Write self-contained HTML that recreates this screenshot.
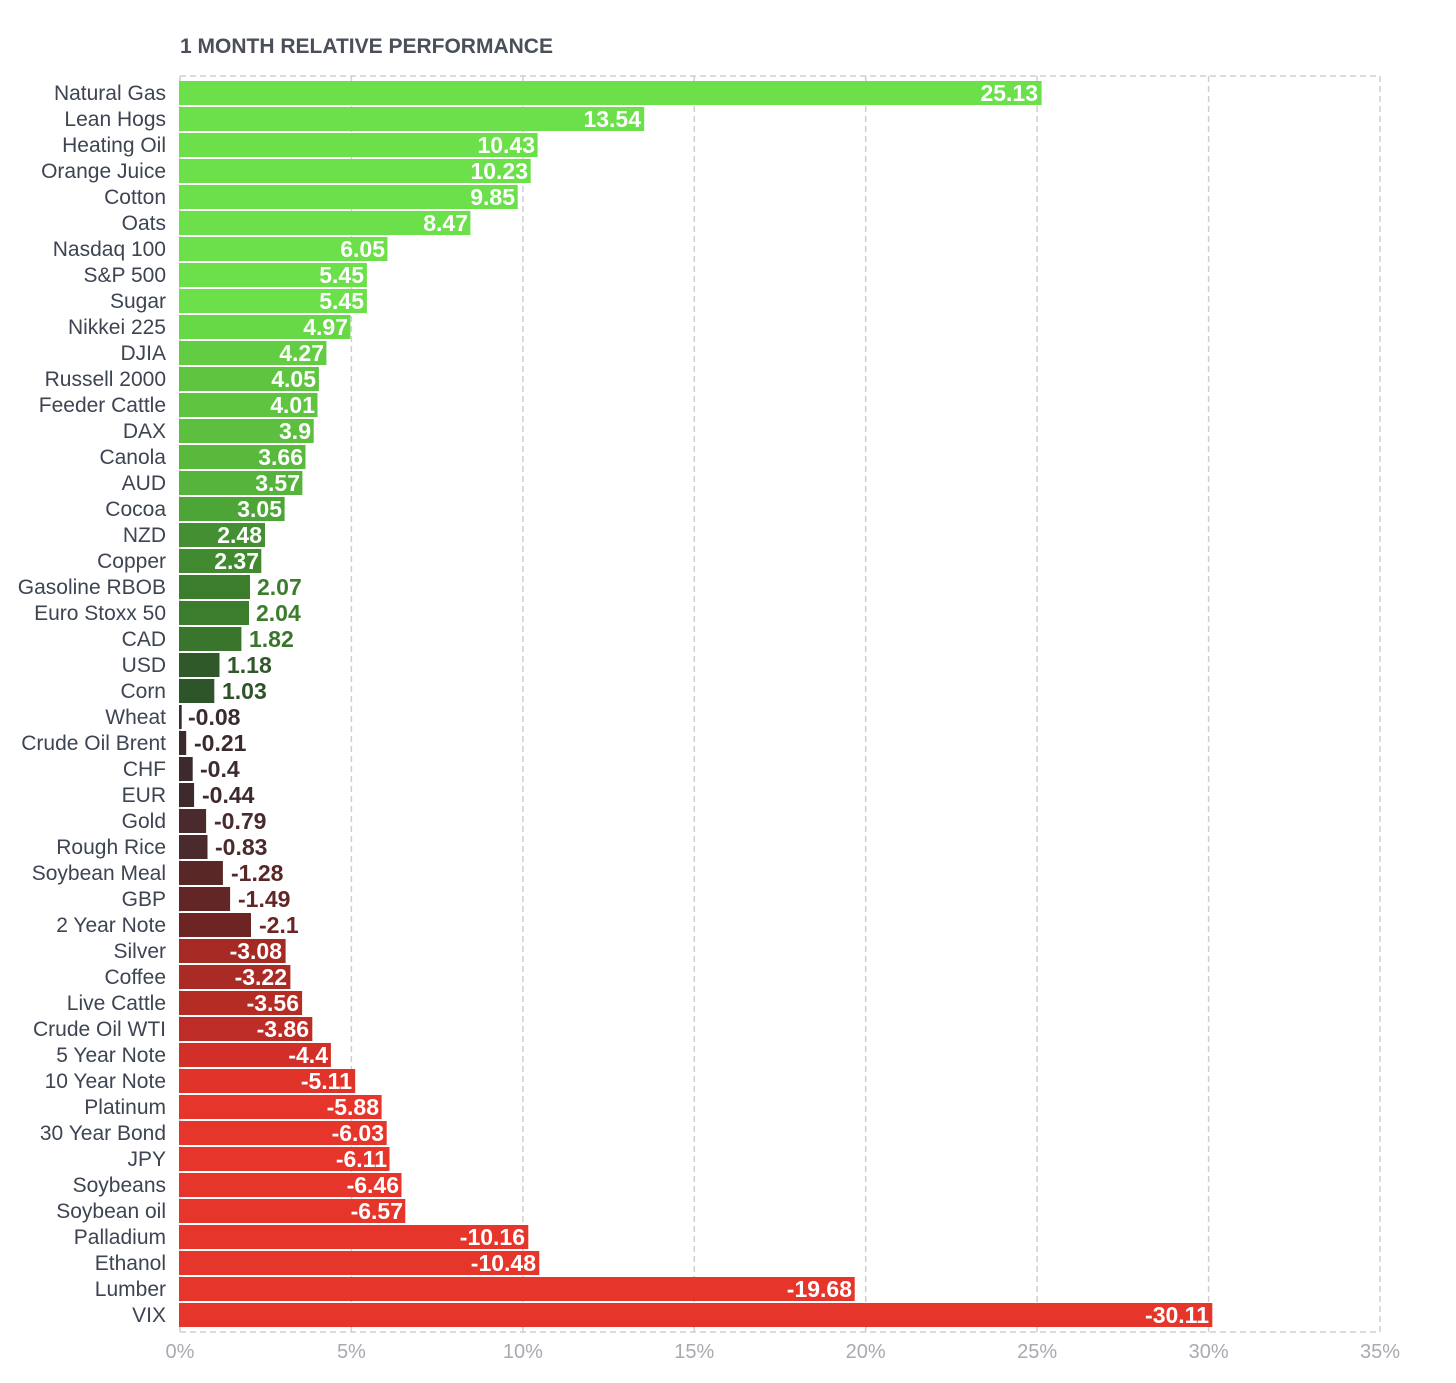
<!DOCTYPE html>
<html><head><meta charset="utf-8"><style>
body{margin:0;background:#fff}
svg{display:block;font-family:"Liberation Sans",sans-serif}
.l{font-size:21px;fill:#3d4452;text-anchor:end}
.v{font-size:23px;font-weight:bold}
.i{fill:#fff;text-anchor:end}
.t{font-size:20px;fill:#a8aab0;text-anchor:middle}
</style></head><body>
<svg width="1456" height="1383" viewBox="0 0 1456 1383">
<text x="180" y="53" style="font-size:21px;font-weight:bold;fill:#4a4f5a">1 MONTH RELATIVE PERFORMANCE</text>
<g stroke="#cfcfcf" stroke-width="1.5" stroke-dasharray="6,4" fill="none">
<line x1="180" y1="76" x2="1380" y2="76"/><line x1="180" y1="1332" x2="1380" y2="1332"/>
<line x1="180" y1="76" x2="180" y2="1332"/><line x1="351.4" y1="76" x2="351.4" y2="1332"/><line x1="522.9" y1="76" x2="522.9" y2="1332"/><line x1="694.3" y1="76" x2="694.3" y2="1332"/><line x1="865.7" y1="76" x2="865.7" y2="1332"/><line x1="1037.1" y1="76" x2="1037.1" y2="1332"/><line x1="1208.6" y1="76" x2="1208.6" y2="1332"/><line x1="1380" y1="76" x2="1380" y2="1332"/>
</g>
<text class="t" x="180" y="1358">0%</text><text class="t" x="351.4" y="1358">5%</text><text class="t" x="522.9" y="1358">10%</text><text class="t" x="694.3" y="1358">15%</text><text class="t" x="865.7" y="1358">20%</text><text class="t" x="1037.1" y="1358">25%</text><text class="t" x="1208.6" y="1358">30%</text><text class="t" x="1380" y="1358">35%</text>

<rect x="179" y="81" width="862.6" height="24" fill="#6be04a"/><text class="l" x="166" y="100">Natural Gas</text><text class="v i" x="1038" y="101">25.13</text>
<rect x="179" y="107" width="465.2" height="24" fill="#6be04a"/><text class="l" x="166" y="126">Lean Hogs</text><text class="v i" x="641" y="127">13.54</text>
<rect x="179" y="133" width="358.6" height="24" fill="#6be04a"/><text class="l" x="166" y="152">Heating Oil</text><text class="v i" x="535" y="153">10.43</text>
<rect x="179" y="159" width="351.7" height="24" fill="#6be04a"/><text class="l" x="166" y="178">Orange Juice</text><text class="v i" x="528" y="179">10.23</text>
<rect x="179" y="185" width="338.7" height="24" fill="#6be04a"/><text class="l" x="166" y="204">Cotton</text><text class="v i" x="515" y="205">9.85</text>
<rect x="179" y="211" width="291.4" height="24" fill="#6be04a"/><text class="l" x="166" y="230">Oats</text><text class="v i" x="468" y="231">8.47</text>
<rect x="179" y="237" width="208.4" height="24" fill="#6be04a"/><text class="l" x="166" y="256">Nasdaq 100</text><text class="v i" x="385" y="257">6.05</text>
<rect x="179" y="263" width="187.9" height="24" fill="#6be04a"/><text class="l" x="166" y="282">S&amp;P 500</text><text class="v i" x="364" y="283">5.45</text>
<rect x="179" y="289" width="187.9" height="24" fill="#6be04a"/><text class="l" x="166" y="308">Sugar</text><text class="v i" x="364" y="309">5.45</text>
<rect x="179" y="315" width="171.4" height="24" fill="#67d946"/><text class="l" x="166" y="334">Nikkei 225</text><text class="v i" x="348" y="335">4.97</text>
<rect x="179" y="341" width="147.4" height="24" fill="#62cc42"/><text class="l" x="166" y="360">DJIA</text><text class="v i" x="324" y="361">4.27</text>
<rect x="179" y="367" width="139.9" height="24" fill="#5fc540"/><text class="l" x="166" y="386">Russell 2000</text><text class="v i" x="316" y="387">4.05</text>
<rect x="179" y="393" width="138.5" height="24" fill="#5fc540"/><text class="l" x="166" y="412">Feeder Cattle</text><text class="v i" x="315" y="413">4.01</text>
<rect x="179" y="419" width="134.7" height="24" fill="#5cbf3f"/><text class="l" x="166" y="438">DAX</text><text class="v i" x="311" y="439">3.9</text>
<rect x="179" y="445" width="126.5" height="24" fill="#59b93d"/><text class="l" x="166" y="464">Canola</text><text class="v i" x="303" y="465">3.66</text>
<rect x="179" y="471" width="123.4" height="24" fill="#56b43c"/><text class="l" x="166" y="490">AUD</text><text class="v i" x="300" y="491">3.57</text>
<rect x="179" y="497" width="105.6" height="24" fill="#4ea537"/><text class="l" x="166" y="516">Cocoa</text><text class="v i" x="282" y="517">3.05</text>
<rect x="179" y="523" width="86" height="24" fill="#448f31"/><text class="l" x="166" y="542">NZD</text><text class="v i" x="262" y="543">2.48</text>
<rect x="179" y="549" width="82.3" height="24" fill="#418a30"/><text class="l" x="166" y="568">Copper</text><text class="v i" x="259" y="569">2.37</text>
<rect x="179" y="575" width="71" height="24" fill="#3c7d2d"/><text class="l" x="166" y="594">Gasoline RBOB</text><text class="v" x="257" y="595" fill="#3c7d2d">2.07</text>
<rect x="179" y="601" width="70" height="24" fill="#3c7d2d"/><text class="l" x="166" y="620">Euro Stoxx 50</text><text class="v" x="256" y="621" fill="#3c7d2d">2.04</text>
<rect x="179" y="627" width="62.4" height="24" fill="#39752c"/><text class="l" x="166" y="646">CAD</text><text class="v" x="249" y="647" fill="#39752c">1.82</text>
<rect x="179" y="653" width="40.5" height="24" fill="#30592a"/><text class="l" x="166" y="672">USD</text><text class="v" x="227" y="673" fill="#30592a">1.18</text>
<rect x="179" y="679" width="35.3" height="24" fill="#2e5429"/><text class="l" x="166" y="698">Corn</text><text class="v" x="222" y="699" fill="#2e5429">1.03</text>
<rect x="179" y="705" width="2.7" height="24" fill="#3a2c2e"/><text class="l" x="166" y="724">Wheat</text><text class="v" x="188" y="725" fill="#3a2c2e">-0.08</text>
<rect x="179" y="731" width="7.2" height="24" fill="#3b2b2d"/><text class="l" x="166" y="750">Crude Oil Brent</text><text class="v" x="194" y="751" fill="#3b2b2d">-0.21</text>
<rect x="179" y="757" width="13.7" height="24" fill="#3e2a2d"/><text class="l" x="166" y="776">CHF</text><text class="v" x="200" y="777" fill="#3e2a2d">-0.4</text>
<rect x="179" y="783" width="15.1" height="24" fill="#3e2a2d"/><text class="l" x="166" y="802">EUR</text><text class="v" x="202" y="803" fill="#3e2a2d">-0.44</text>
<rect x="179" y="809" width="27.1" height="24" fill="#4a2a2c"/><text class="l" x="166" y="828">Gold</text><text class="v" x="214" y="829" fill="#4a2a2c">-0.79</text>
<rect x="179" y="835" width="28.5" height="24" fill="#4a2a2c"/><text class="l" x="166" y="854">Rough Rice</text><text class="v" x="215" y="855" fill="#4a2a2c">-0.83</text>
<rect x="179" y="861" width="43.9" height="24" fill="#5a2727"/><text class="l" x="166" y="880">Soybean Meal</text><text class="v" x="231" y="881" fill="#5a2727">-1.28</text>
<rect x="179" y="887" width="51.1" height="24" fill="#622626"/><text class="l" x="166" y="906">GBP</text><text class="v" x="238" y="907" fill="#622626">-1.49</text>
<rect x="179" y="913" width="72" height="24" fill="#6f2424"/><text class="l" x="166" y="932">2 Year Note</text><text class="v" x="259" y="933" fill="#6f2424">-2.1</text>
<rect x="179" y="939" width="106.6" height="24" fill="#a52a24"/><text class="l" x="166" y="958">Silver</text><text class="v i" x="282" y="959">-3.08</text>
<rect x="179" y="965" width="111.4" height="24" fill="#aa2b25"/><text class="l" x="166" y="984">Coffee</text><text class="v i" x="287" y="985">-3.22</text>
<rect x="179" y="991" width="123.1" height="24" fill="#b52c25"/><text class="l" x="166" y="1010">Live Cattle</text><text class="v i" x="299" y="1011">-3.56</text>
<rect x="179" y="1017" width="133.3" height="24" fill="#bd2c26"/><text class="l" x="166" y="1036">Crude Oil WTI</text><text class="v i" x="309" y="1037">-3.86</text>
<rect x="179" y="1043" width="151.9" height="24" fill="#d12f28"/><text class="l" x="166" y="1062">5 Year Note</text><text class="v i" x="328" y="1063">-4.4</text>
<rect x="179" y="1069" width="176.2" height="24" fill="#e0342a"/><text class="l" x="166" y="1088">10 Year Note</text><text class="v i" x="352" y="1089">-5.11</text>
<rect x="179" y="1095" width="202.6" height="24" fill="#e6352a"/><text class="l" x="166" y="1114">Platinum</text><text class="v i" x="379" y="1115">-5.88</text>
<rect x="179" y="1121" width="207.7" height="24" fill="#e6352a"/><text class="l" x="166" y="1140">30 Year Bond</text><text class="v i" x="384" y="1141">-6.03</text>
<rect x="179" y="1147" width="210.5" height="24" fill="#e6352a"/><text class="l" x="166" y="1166">JPY</text><text class="v i" x="387" y="1167">-6.11</text>
<rect x="179" y="1173" width="222.5" height="24" fill="#e6352a"/><text class="l" x="166" y="1192">Soybeans</text><text class="v i" x="399" y="1193">-6.46</text>
<rect x="179" y="1199" width="226.3" height="24" fill="#e6352a"/><text class="l" x="166" y="1218">Soybean oil</text><text class="v i" x="403" y="1219">-6.57</text>
<rect x="179" y="1225" width="349.3" height="24" fill="#e6352a"/><text class="l" x="166" y="1244">Palladium</text><text class="v i" x="525" y="1245">-10.16</text>
<rect x="179" y="1251" width="360.3" height="24" fill="#e6352a"/><text class="l" x="166" y="1270">Ethanol</text><text class="v i" x="536" y="1271">-10.48</text>
<rect x="179" y="1277" width="675.7" height="24" fill="#e6352a"/><text class="l" x="166" y="1296">Lumber</text><text class="v i" x="852" y="1297">-19.68</text>
<rect x="179" y="1303" width="1033.3" height="24" fill="#e6352a"/><text class="l" x="166" y="1322">VIX</text><text class="v i" x="1209" y="1323">-30.11</text>
</svg>
</body></html>
